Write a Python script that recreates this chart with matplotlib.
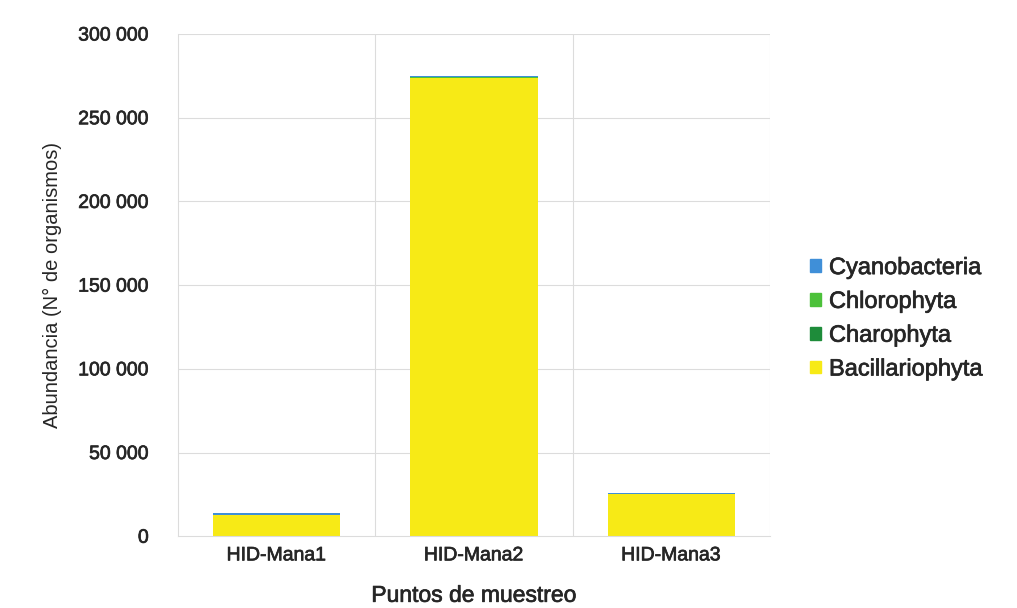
import matplotlib.pyplot as plt
import matplotlib.patheffects as pe
from matplotlib.ticker import FuncFormatter
from matplotlib.patches import Patch

plt.rcParams['font.family'] = ['Liberation Sans', 'DejaVu Sans']

# ── Data ──────────────────────────────────────────────────────────────────────
puntos          = ["HID-Mana1", "HID-Mana2", "HID-Mana3"]
bacillariophyta = [12800, 273800, 25300]
charophyta      = [50, 100, 50]
chlorophyta     = [100, 200, 100]
cyanobacteria   = [1100, 900, 500]

series = [
    ("Bacillariophyta", bacillariophyta, "#f7ea16"),
    ("Charophyta",      charophyta,      "#1e8c3a"),
    ("Chlorophyta",     chlorophyta,     "#4cc13a"),
    ("Cyanobacteria",   cyanobacteria,   "#3f8fd8"),
]

TEXT_COLOR = "#262626"
heavy = [pe.withStroke(linewidth=0.5, foreground=TEXT_COLOR)]

fig = plt.figure(figsize=(10.17, 6.08), dpi=100)
ax = fig.add_axes([0.175, 0.118, 0.582, 0.826])

x = range(len(puntos))
bottom = [0] * len(puntos)
for name, vals, color in series:
    ax.bar(x, vals, width=0.645, bottom=bottom, color=color, linewidth=0)
    bottom = [b + v for b, v in zip(bottom, vals)]

ax.set_ylim(0, 300000)
ax.set_xlim(-0.5, len(puntos) - 0.5)
ax.set_yticks(range(0, 300001, 50000))
ax.yaxis.set_major_formatter(FuncFormatter(lambda v, _: f"{int(v):,}".replace(",", " ")))
ax.set_xticks(list(x))
ax.set_xticklabels(puntos)

# grid: horizontal at ticks, vertical at category boundaries
for yv in range(50000, 300001, 50000):
    ax.axhline(yv, color="#dcdcdc", linewidth=0.8, zorder=0)
for xv in [0.5, 1.5, 2.5]:
    ax.axvline(xv, color="#dcdcdc", linewidth=0.8, zorder=0)

for s in ["top", "right"]:
    ax.spines[s].set_visible(False)
ax.spines["left"].set_color("#dcdcdc")
ax.spines["bottom"].set_color("#dcdcdc")
ax.tick_params(axis="y", length=0, labelsize=14, pad=21, colors=TEXT_COLOR)
ax.tick_params(axis="x", length=0, labelsize=14, pad=8, colors=TEXT_COLOR)
for t in ax.get_xticklabels() + ax.get_yticklabels():
    t.set_path_effects(heavy)

ax.set_xlabel("Puntos de muestreo", fontsize=16.5, labelpad=14,
              color=TEXT_COLOR, path_effects=heavy)
ax.set_ylabel("Abundancia (N° de organismos)", fontsize=14.5, color=TEXT_COLOR)
ax.yaxis.set_label_coords(-0.196, 0.5)

handles = [Patch(color=c, label=n) for n, _, c in reversed(series)]
leg = ax.legend(handles=handles, loc="center left", bbox_to_anchor=(1.052, 0.433),
                frameon=False, borderaxespad=0, handlelength=0.45, handleheight=0.45,
                handletextpad=0.35, labelspacing=0.5, prop={"size": 17})
for t in leg.get_texts():
    t.set_color(TEXT_COLOR)
    t.set_path_effects(heavy)

plt.savefig("out.png", dpi=100)
